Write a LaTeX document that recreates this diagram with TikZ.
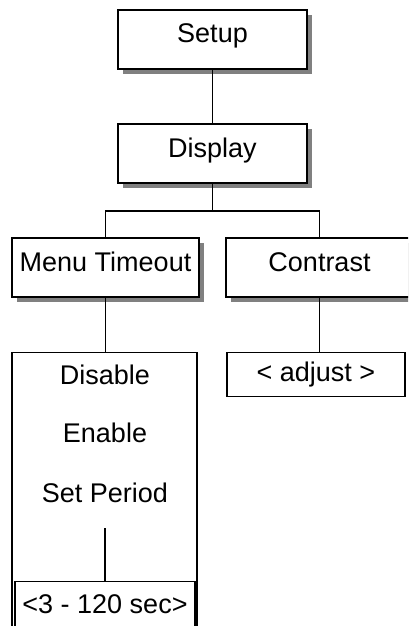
\documentclass[tikz,border=0pt]{standalone}
\usepackage{fontspec}
\setmainfont{Liberation Sans}
\usetikzlibrary{calc,shadows}
\definecolor{shade}{HTML}{808080}
\tikzset{
  every picture/.style={font=\fontsize{27}{32}\selectfont},
  menubox/.style={draw=black,fill=white,line width=2pt,minimum width=189pt,minimum height=59pt,inner sep=0pt,
    text height=19.5pt,text depth=12.5pt,
    general shadow={fill=shade,shadow xshift=5pt,shadow yshift=-5pt}},
  listbox/.style={draw=black,fill=white,line width=1.3pt,inner sep=0pt},
  item/.style={inner sep=0pt},
  link/.style={draw=black,line width=1.7pt},
}

\begin{document}
\begin{tikzpicture}[x=1pt,y=-1pt]
  \clip (0,0) rectangle (408,626);
  % menu levels, top to bottom
  \node[menubox] (setup) at (212.5,39.5) {Setup};
  \node[menubox] (display) at (212.5,153.5) {Display};
  \node[menubox,minimum width=187pt] (timeout) at (105.5,267.5) {Menu Timeout};
  \node[menubox,minimum width=187pt] (contrast) at (319.5,267.5) {Contrast};

  % option lists
  \node[listbox,minimum width=185pt,minimum height=290pt,anchor=north] (optlist) at (104.5,352) {};
  \node[item] (disable) at (105,375) {Disable};
  \node[item] (enable) at (105,433) {Enable};
  \node[item] (period) at (105,493) {Set Period};
  \coordinate (periodtap) at (105,528);
  \node[listbox,minimum width=180pt,minimum height=50pt,text height=13.4pt,text depth=0pt,anchor=north] (range) at (105,581) {<3 - 120 sec>};
  \node[listbox,minimum width=178pt,minimum height=44pt,anchor=north] (adjust) at (316,352) {< adjust >};

  % connectors
  \coordinate (bus) at ($(display.south)+(0,27)$);
  \draw[link] (setup) -- (display);
  \draw[link] (display.south) -- (bus);
  \draw[link] (timeout.north) |- (bus) -| (contrast.north);
  \draw[link] (timeout.south) -- (timeout.south |- optlist.north);
  \draw[link] (contrast.south) -- (contrast.south |- adjust.north);
  \draw[link] (periodtap) -- (range.north);
\end{tikzpicture}
\end{document}
